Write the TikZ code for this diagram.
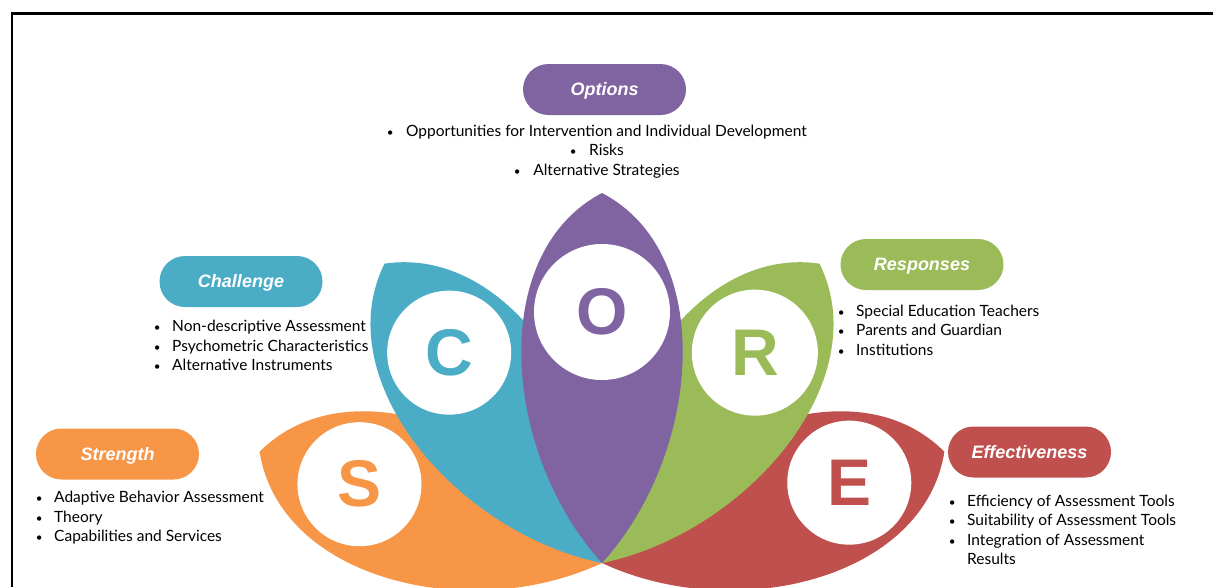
\documentclass[tikz,border=0pt]{standalone}
\usepackage{fontspec}
\usepackage{graphicx}
\usetikzlibrary{calc}
\setmainfont{Lato}
\newfontfamily\headfont{Liberation Sans}
\definecolor{cpurple}{HTML}{8064A2}
\definecolor{ccyan}{HTML}{4BACC6}
\definecolor{cgreen}{HTML}{9BBB59}
\definecolor{corange}{HTML}{F79646}
\definecolor{cred}{HTML}{C0504D}
\tikzset{
  pics/innerpetal/.style={code={
    \fill[#1] (0,0) .. controls (100,110) and (115,310) .. (0,370)
                    .. controls (-115,310) and (-100,110) .. (0,0) -- cycle;}},
  pics/outerpetal/.style={code={
    \fill[#1] (0,0) .. controls (100,107) and (115,301.6) .. (0,360)
                    .. controls (-115,301.6) and (-100,107) .. (0,0) -- cycle;}},
  pill/.style={rectangle, rounded corners=25.5pt, minimum width=163pt, minimum height=51pt,
    inner sep=0pt, text height=13pt, text depth=0.5pt, fill=#1, text=white,
    font=\headfont\bfseries\itshape\fontsize{18}{20}\selectfont},
  letter/.style={circle, fill=white, minimum size=#1, inner sep=0pt,
    font=\headfont\bfseries\fontsize{66}{70}\selectfont},
  blist/.style={anchor=base west, inner sep=0pt, font=\fontsize{15.5}{19.5}\selectfont},
  frame/.style={line width=2.6pt, black}
}
\newcommand{\bl}{\makebox[6pt]{\scalebox{0.75}{\textbullet}}}
\begin{document}
\begin{tikzpicture}[x=1pt,y=1pt]
\useasboundingbox (0,0) rectangle (1213,-587);
\fill[white] (0,0) rectangle (1213,-587);
\coordinate (P) at (602,-563);
\coordinate (fa) at (12,-587);
\coordinate (fb) at (12,-13.5);
\coordinate (fc) at (1213,-13.5);
\draw[frame] (fa) -- (fb) -- (fc);
% petals
\pic[rotate=72] at (P) {outerpetal=corange};
\pic[rotate=-72] at (P) {outerpetal=cred};
\pic[rotate=36] at (P) {innerpetal=ccyan};
\pic[rotate=-36] at (P) {innerpetal=cgreen};
\pic at (P) {innerpetal=cpurple};
% letter circles
\node[letter=136pt, text=cpurple] (O) at ($(P)+(90:251)$) {O};
\node[letter=124pt, text=ccyan] (C) at ($(P)+(126:260)$) {C};
\node[letter=126pt, text=cgreen] (R) at ($(P)+(54:260)$) {R};
\node[letter=124pt, text=corange] (S) at ($(P)+(162:255)$) {S};
\node[letter=124pt, text=cred] (E) at ($(P)+(18:260)$) {E};
% pills
\node[pill=cpurple] (po) at (604.5,-89.5) {Options};
\node[pill=ccyan] (pc) at (241,-281.5) {Challenge};
\node[pill=cgreen] (pr) at (922,-264.5) {Responses};
\node[pill=corange] (ps) at (117.5,-454) {Strength};
\node[pill=cred] (pe) at (1029.5,-452) {Effectiveness};
% lists
\node[blist, anchor=base] (lo) at (597,-136) {\begin{tabular}[t]{@{}c@{}}
\bl\hspace{13pt}Opportunities for Intervention and Individual Development\\
\bl\hspace{13pt}Risks\\
\bl\hspace{13pt}Alternative Strategies\end{tabular}};
\node[blist] (lc) at (154,-331.5) {\begin{tabular}[t]{@{}l@{\hspace{12pt}}l@{}}
\bl & Non-descriptive Assessment\\
\bl & Psychometric Characteristics\\
\bl & Alternative Instruments\end{tabular}};
\node[blist] (lr) at (838,-316) {\begin{tabular}[t]{@{}l@{\hspace{12pt}}l@{}}
\bl & Special Education Teachers\\
\bl & Parents and Guardian\\
\bl & Institutions\end{tabular}};
\node[blist] (ls) at (36,-502.5) {\begin{tabular}[t]{@{}l@{\hspace{12pt}}l@{}}
\bl & Adaptive Behavior Assessment\\
\bl & Theory\\
\bl & Capabilities and Services\end{tabular}};
\node[blist] (le) at (949,-506) {\begin{tabular}[t]{@{}l@{\hspace{12pt}}l@{}}
\bl & Efficiency of Assessment Tools\\
\bl & Suitability of Assessment Tools\\
\bl & Integration of Assessment\\
 & Results\end{tabular}};
\end{tikzpicture}
\end{document}
